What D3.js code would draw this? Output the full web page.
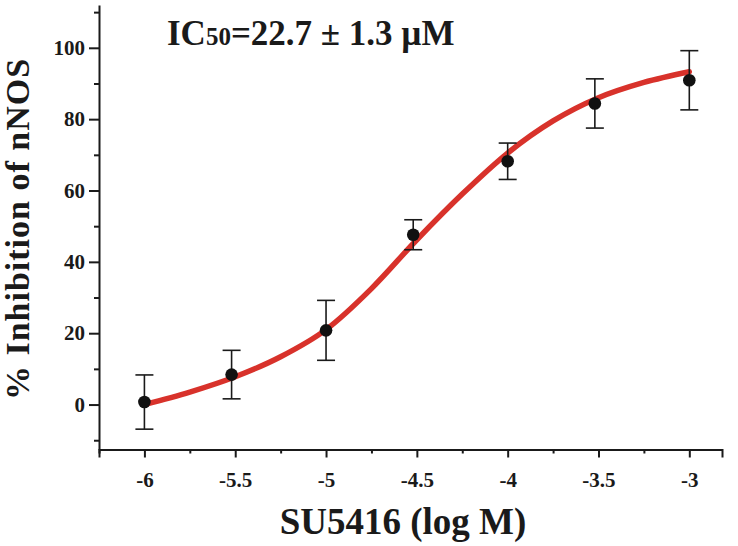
<!DOCTYPE html>
<html>
<head>
<meta charset="utf-8">
<script src="https://cdn.jsdelivr.net/npm/d3@7"></script>
<style>
  body { margin: 0; background: #fff; }
  svg text { font-family: "Liberation Serif", "Times New Roman", serif; font-weight: bold; fill: #1a1a1a; }
  .axis path, .axis line { stroke: #1a1a1a; stroke-width: 2; }
</style>
</head>
<body>
<div id="chart"></div>
<script>
// measured points (log M), mean inhibition and error
var doseLog = [-6, -5.52, -5, -4.52, -4, -3.52, -3];
var inhibition = [0.7, 8.4, 20.8, 47.6, 68.2, 84.4, 90.9];
var errors = [7.6, 6.8, 8.4, 4.2, 5.1, 6.9, 8.3];

// fitted curve
var curveLog = [-6, -5.75, -5.5, -5.25, -5, -4.75, -4.5, -4.25, -4, -3.75, -3.5, -3.25, -3];
var curveVal = [0, 3.5, 7.8, 13.4, 21, 32.5, 46.2, 59, 70.5, 79.5, 86, 90.3, 93.3];

var xTicks = [-6, -5.5, -5, -4.5, -4, -3.5, -3];
var xMinor = [-6.25, -5.75, -5.25, -4.75, -4.25, -3.75, -3.25];
var yTicks = [0, 20, 40, 60, 80, 100];
var yMinor = [-10, 10, 30, 50, 70, 90, 110];

var width = 738, height = 546;

var svg = d3.select('#chart').append('svg')
    .attr('width', width)
    .attr('height', height);

var x = d3.scaleLinear().domain([-6.25, -2.82]).range([99, 722]);
var y = d3.scaleLinear().domain([-12.6, 112]).range([449.5, 5]);

// axes
var xAxis = svg.append('g').attr('class', 'axis')
    .attr('transform', 'translate(0,' + y.range()[0] + ')')
    .call(d3.axisBottom(x).tickValues(xTicks).tickSize(8).tickPadding(15)
        .tickFormat(function (d) { return String(d).replace('\u2212', '-'); }));
xAxis.selectAll('text').style('font-size', '21px');
svg.append('g').attr('class', 'axis')
    .attr('transform', 'translate(0,' + y.range()[0] + ')')
    .call(d3.axisBottom(x).tickValues(xMinor).tickSize(4).tickFormat(''))
    .select('.domain').remove();

var yAxis = svg.append('g').attr('class', 'axis')
    .attr('transform', 'translate(' + x.range()[0] + ',0)')
    .call(d3.axisLeft(y).tickValues(yTicks).tickSize(10).tickPadding(4).tickSizeOuter(0));
yAxis.selectAll('text').style('font-size', '21px');
svg.append('g').attr('class', 'axis')
    .attr('transform', 'translate(' + x.range()[0] + ',0)')
    .call(d3.axisLeft(y).tickValues(yMinor).tickSize(5).tickFormat(''))
    .select('.domain').remove();

// fitted curve
var line = d3.line()
    .x(function (d, i) { return x(curveLog[i]); })
    .y(function (d) { return y(d); })
    .curve(d3.curveMonotoneX);
svg.append('path')
    .datum(curveVal)
    .attr('d', line)
    .attr('fill', 'none')
    .attr('stroke', '#d8322b')
    .attr('stroke-width', 5.5)
    .attr('stroke-linecap', 'round');

// error bars
var bars = svg.append('g').attr('stroke', '#1a1a1a').attr('stroke-width', 1.6);
doseLog.forEach(function (d, i) {
    var cx = x(d), top = y(inhibition[i] + errors[i]), bot = y(inhibition[i] - errors[i]);
    bars.append('line').attr('x1', cx).attr('x2', cx).attr('y1', top).attr('y2', bot);
    bars.append('line').attr('x1', cx - 9).attr('x2', cx + 9).attr('y1', top).attr('y2', top);
    bars.append('line').attr('x1', cx - 9).attr('x2', cx + 9).attr('y1', bot).attr('y2', bot);
});

svg.append('g').selectAll('circle')
    .data(inhibition)
    .enter().append('circle')
    .attr('cx', function (d, i) { return x(doseLog[i]); })
    .attr('cy', function (d) { return y(d); })
    .attr('r', 6.3)
    .attr('fill', '#111');

// labels
var title = svg.append('text')
    .attr('x', 167)
    .attr('y', 45)
    .style('font-size', '35px');
title.append('tspan').text('IC');
title.append('tspan').text('50').style('font-size', '25px');
title.append('tspan').text('=22.7 \u00b1 1.3 \u00b5M');

svg.append('text')
    .attr('x', 403)
    .attr('y', 534)
    .attr('text-anchor', 'middle')
    .style('font-size', '37px')
    .text('SU5416 (log M)');

svg.append('text')
    .attr('transform', 'translate(29,229) rotate(-90)')
    .attr('text-anchor', 'middle')
    .style('font-size', '34px')
    .style('letter-spacing', '1px')
    .text('% Inhibition of nNOS');
</script>
</body>
</html>
